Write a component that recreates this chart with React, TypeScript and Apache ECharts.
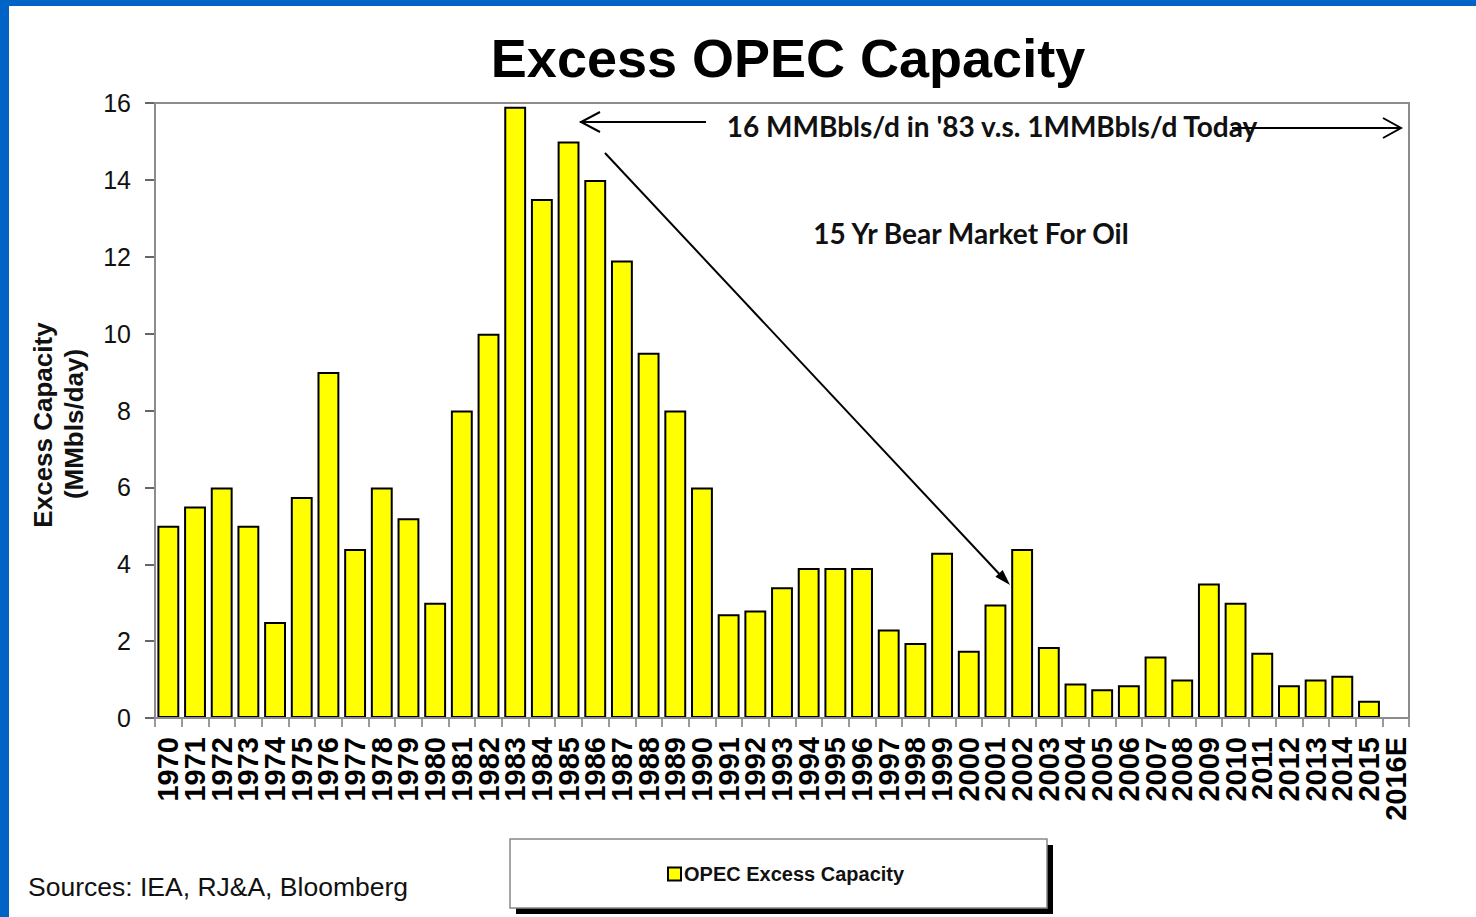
import React, { useEffect, useRef } from "react";
import * as echarts from "echarts";

const years: string[] = [
  "1970","1971","1972","1973","1974","1975","1976","1977","1978","1979",
  "1980","1981","1982","1983","1984","1985","1986","1987","1988","1989",
  "1990","1991","1992","1993","1994","1995","1996","1997","1998","1999",
  "2000","2001","2002","2003","2004","2005","2006","2007","2008","2009",
  "2010","2011","2012","2013","2014","2015","2016E",
];

const excessCapacity: (number | null)[] = [
  5.0, 5.5, 6.0, 5.0, 2.5, 5.75, 9.0, 4.4, 6.0, 5.2,
  3.0, 8.0, 10.0, 15.9, 13.5, 15.0, 14.0, 11.9, 9.5, 8.0,
  6.0, 2.7, 2.8, 3.4, 3.9, 3.9, 3.9, 2.3, 1.95, 4.3,
  1.75, 2.95, 4.4, 1.85, 0.9, 0.75, 0.85, 1.6, 1.0, 3.5,
  3.0, 1.7, 0.85, 1.0, 1.1, 0.45, null,
];

const yTicks = { min: 0, max: 16, interval: 2 };

const seriesName = "OPEC Excess Capacity";
const chartTitle = "Excess OPEC Capacity";
const yNameLine1 = "Excess Capacity";
const yNameLine2 = "(MMbls/day)";
const sourceText = "Sources: IEA, RJ&A, Bloomberg";
const annotation1 = "16 MMBbls/d in '83 v.s. 1MMBbls/d Today";
const annotation2 = "15 Yr Bear Market For Oil";

function arrowHead(x1: number, y1: number, x2: number, y2: number, len: number, half: number) {
  const dx = x2 - x1, dy = y2 - y1;
  const d = Math.sqrt(dx * dx + dy * dy);
  const ux = dx / d, uy = dy / d;
  const bx = x2 - ux * len, by = y2 - uy * len;
  return [
    [bx - uy * half, by + ux * half],
    [x2, y2],
    [bx + uy * half, by - ux * half],
  ];
}

export default function App() {
  const ref = useRef<HTMLDivElement>(null);
  useEffect(() => {
    if (!ref.current) return;
    const chart = echarts.init(ref.current, null, { renderer: "svg" });
    const ann = { fontFamily: "Lato", fontWeight: "bold" as const, fontSize: 28, fill: "#111" };
    const diag = arrowHead(605, 153, 1010, 585, 16, 5);
    const option: any = {
      animation: false,
      backgroundColor: "#0063C6",
      grid: {
        left: 155, top: 103, width: 1254, height: 615,
        show: true, borderColor: "#8c8c8c", borderWidth: 2, backgroundColor: "transparent", z: 3,
      },
      legend: {
        show: true,
        data: [seriesName],
        left: 662, top: 859,
        itemWidth: 13, itemHeight: 13, itemGap: 4,
        icon: "rect",
        textStyle: { fontFamily: "Liberation Sans", fontWeight: "bold", fontSize: 20, color: "#111", padding: [0, 0, 0, -2] },
        z: 20,
      },
      xAxis: {
        type: "category",
        data: years,
        boundaryGap: true,
        axisLine: { show: true, lineStyle: { color: "#555", width: 2 } },
        axisTick: { show: true, interval: 0, length: 9, lineStyle: { color: "#777", width: 1.5 } },
        axisLabel: {
          interval: 0, rotate: 90, margin: 19,
          fontFamily: "Liberation Sans", fontWeight: "bold", fontSize: 29, color: "#000",
        },
        splitLine: { show: false },
      },
      yAxis: {
        type: "value",
        min: yTicks.min, max: yTicks.max, interval: yTicks.interval,
        axisLine: { show: true, lineStyle: { color: "#333", width: 2 } },
        axisTick: { show: true, length: 10, inside: false, lineStyle: { color: "#333", width: 1.5 } },
        axisLabel: { margin: 24, fontFamily: "Liberation Sans", fontSize: 25, color: "#111" },
        splitLine: { show: false },
      },
      series: [
        {
          name: seriesName,
          type: "bar",
          data: excessCapacity,
          barCategoryGap: "18%",
          itemStyle: { color: "#FFFF00", borderColor: "#000", borderWidth: 2 },
          z: 2,
        },
      ],
      graphic: [
        { type: "rect", z: -10, shape: { x: 9, y: 6, width: 1467, height: 911 }, style: { fill: "#fff" } },
        {
          type: "text", z: 10, x: 788, y: 58,
          style: { text: chartTitle, fontFamily: "Liberation Sans", fontWeight: "bold", fontSize: 54, fill: "#000", align: "center", verticalAlign: "middle" },
        },
        {
          type: "text", z: 10, x: 43, y: 425, rotation: Math.PI / 2,
          style: { text: yNameLine1, fontFamily: "Liberation Sans", fontWeight: "bold", fontSize: 26, fill: "#111", align: "center", verticalAlign: "middle" },
        },
        {
          type: "text", z: 10, x: 74, y: 424, rotation: Math.PI / 2,
          style: { text: yNameLine2, fontFamily: "Liberation Sans", fontWeight: "bold", fontSize: 26, fill: "#111", align: "center", verticalAlign: "middle" },
        },
        {
          type: "text", z: 10, x: 28, y: 887,
          style: { text: sourceText, fontFamily: "Liberation Sans", fontSize: 26.5, fill: "#111", align: "left", verticalAlign: "middle" },
        },
        // legend box with shadow
        { type: "rect", z: 5, shape: { x: 516, y: 845, width: 537, height: 69 }, style: { fill: "#000" } },
        { type: "rect", z: 6, shape: { x: 510, y: 839, width: 537, height: 69 }, style: { fill: "#fff", stroke: "#888", lineWidth: 1.5 } },
        // annotations
        { type: "text", z: 10, x: 992, y: 126, style: { ...ann, text: annotation1, align: "center", verticalAlign: "middle" } },
        { type: "text", z: 10, x: 971, y: 233, style: { ...ann, text: annotation2, align: "center", verticalAlign: "middle" } },
        { type: "line", z: 10, shape: { x1: 580, y1: 122, x2: 706, y2: 122 }, style: { stroke: "#000", lineWidth: 2 } },
        { type: "polyline", z: 10, shape: { points: [[600, 112], [581, 122], [600, 132]] }, style: { stroke: "#000", lineWidth: 2, fill: null } },
        { type: "line", z: 10, shape: { x1: 1232, y1: 128, x2: 1401, y2: 128 }, style: { stroke: "#000", lineWidth: 2 } },
        { type: "polyline", z: 10, shape: { points: [[1383, 118], [1401, 128], [1383, 138]] }, style: { stroke: "#000", lineWidth: 2, fill: null } },
        { type: "line", z: 10, shape: { x1: 605, y1: 153, x2: 1004, y2: 579 }, style: { stroke: "#000", lineWidth: 2 } },
        { type: "polygon", z: 10, shape: { points: diag }, style: { fill: "#000" } },
      ],
    };
    chart.setOption(option);
    return () => chart.dispose();
  }, []);
  return <div ref={ref} style={{ position: "absolute", left: 0, top: 0, width: 1476, height: 917 }} />;
}
